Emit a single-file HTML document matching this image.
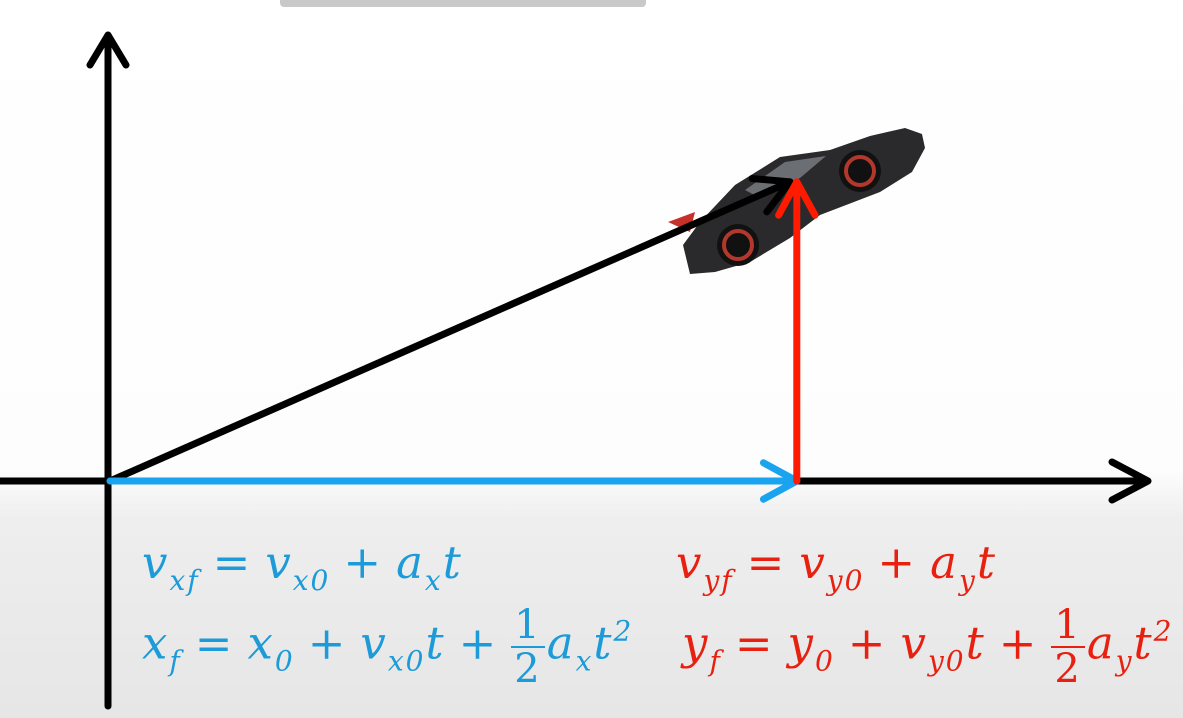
<!DOCTYPE html>
<html><head><meta charset="utf-8"><style>
html,body{margin:0;padding:0;width:1183px;height:718px;overflow:hidden}
body{background:linear-gradient(#fff 0,#fdfdfd 470px,#eeeeee 520px,#e6e6e6 718px);font-family:"Liberation Serif",serif}
svg{position:absolute;left:0;top:0}
.eq{position:absolute;font-style:italic;font-size:45px;white-space:nowrap;font-family:"DejaVu Serif","Liberation Serif",serif;letter-spacing:2px}
.blue{color:#1d9ad8}.red{color:#e8200f}
sub{font-size:28px;vertical-align:-12px}
sup{font-size:28px;vertical-align:18px}
.op{font-style:normal;margin:0 13px}
.fr{display:inline-block;vertical-align:middle;text-align:center;font-style:normal;font-size:40px;line-height:42px;margin:0 2px 0 0}
.fr span{display:block;padding:0 3px}
.fr .n{border-bottom:2px solid currentColor}
</style></head><body>
<div style="position:absolute;left:280px;top:0;width:366px;height:7px;background:#c9c9c9;border-radius:0 0 4px 4px"></div>
<svg id="chart" width="1183" height="718"></svg>
<div class="eq blue" style="left:142px;top:536px">v<sub>xf</sub><span class="op">=</span>v<sub>x0</sub><span class="op">+</span>a<sub>x</sub>t</div>
<div class="eq red" style="left:676px;top:536px">v<sub>yf</sub><span class="op">=</span>v<sub>y0</sub><span class="op">+</span>a<sub>y</sub>t</div>
<div class="eq blue" style="left:142px;top:604px">x<sub>f</sub><span class="op">=</span>x<sub>0</sub><span class="op">+</span>v<sub>x0</sub>t<span class="op">+</span><span class="fr"><span class="n">1</span><span>2</span></span>a<sub>x</sub>t<sup>2</sup></div>
<div class="eq red" style="left:682px;top:604px">y<sub>f</sub><span class="op">=</span>y<sub>0</sub><span class="op">+</span>v<sub>y0</sub>t<span class="op">+</span><span class="fr"><span class="n">1</span><span>2</span></span>a<sub>y</sub>t<sup>2</sup></div>
<script>
// vector endpoints in data units (origin at axes crossing)
const vecNames = ['resultant','x-component','y-component'];
const vecX0 = [0, 0, 10.1];
const vecY0 = [0, 0, 0];
const vecX1 = [10.0, 10.1, 10.1];
const vecY1 = [4.4, 0, 4.4];
const vecColors = ['#000','#1aa3ee','#ff1a00'];
const ox=110, oy=481, sx=68, sy=68;
const X=v=>ox+v*sx, Y=v=>oy-v*sy;
const svg=document.getElementById('chart');
const NS='http://www.w3.org/2000/svg';
function mk(t,a){const e=document.createElementNS(NS,t);for(const k in a)e.setAttribute(k,a[k]);svg.appendChild(e);return e;}
let ax=mk('path',{d:'M0 481 L1148 481 M1112 462 L1148 481 L1112 500',stroke:'#000','stroke-width':7,fill:'none','stroke-linejoin':'round','stroke-linecap':'round'});

let ay=mk('path',{d:'M108 706 L108 35 M90 65 L108 35 L126 65',stroke:'#000','stroke-width':7,fill:'none','stroke-linejoin':'round','stroke-linecap':'round'});

const g=mk('g',{});

g.innerHTML='<path d="M690 274 L683 245 L700 222 L735 185 L780 157 L830 150 L870 136 L905 128 L922 134 L925 148 L912 172 L880 192 L820 215 L790 238 L750 262 L715 272 Z" fill="#2a2a2c"/>'+
'<path d="M745 190 L785 162 L826 156 L800 178 L760 198 Z" fill="#6b6f74"/>'+
'<path d="M668 222 L695 212 L690 232 Z" fill="#c8302a"/>'+
'<circle cx="738" cy="245" r="21" fill="#111"/><circle cx="738" cy="245" r="14" fill="none" stroke="#b3382c" stroke-width="4"/>'+
'<circle cx="860" cy="171" r="21" fill="#111"/><circle cx="860" cy="171" r="14" fill="none" stroke="#b3382c" stroke-width="4"/>';
svg.appendChild(g);
for(let i=0;i<vecNames.length;i++){
  const x0=X(vecX0[i]),y0=Y(vecY0[i]),x1=X(vecX1[i]),y1=Y(vecY1[i]);
  const a=Math.atan2(y1-y0,x1-x0),L=38,w=0.5;
  const p1=[x1-L*Math.cos(a-w),y1-L*Math.sin(a-w)],p2=[x1-L*Math.cos(a+w),y1-L*Math.sin(a+w)];
  const e=mk('path',{d:`M${x0} ${y0} L${x1} ${y1} M${p1[0]} ${p1[1]} L${x1} ${y1} L${p2[0]} ${p2[1]}`,stroke:vecColors[i],'stroke-width':7,fill:'none','stroke-linejoin':'round','stroke-linecap':'round'});
  
  
}
</script>
</body></html>
